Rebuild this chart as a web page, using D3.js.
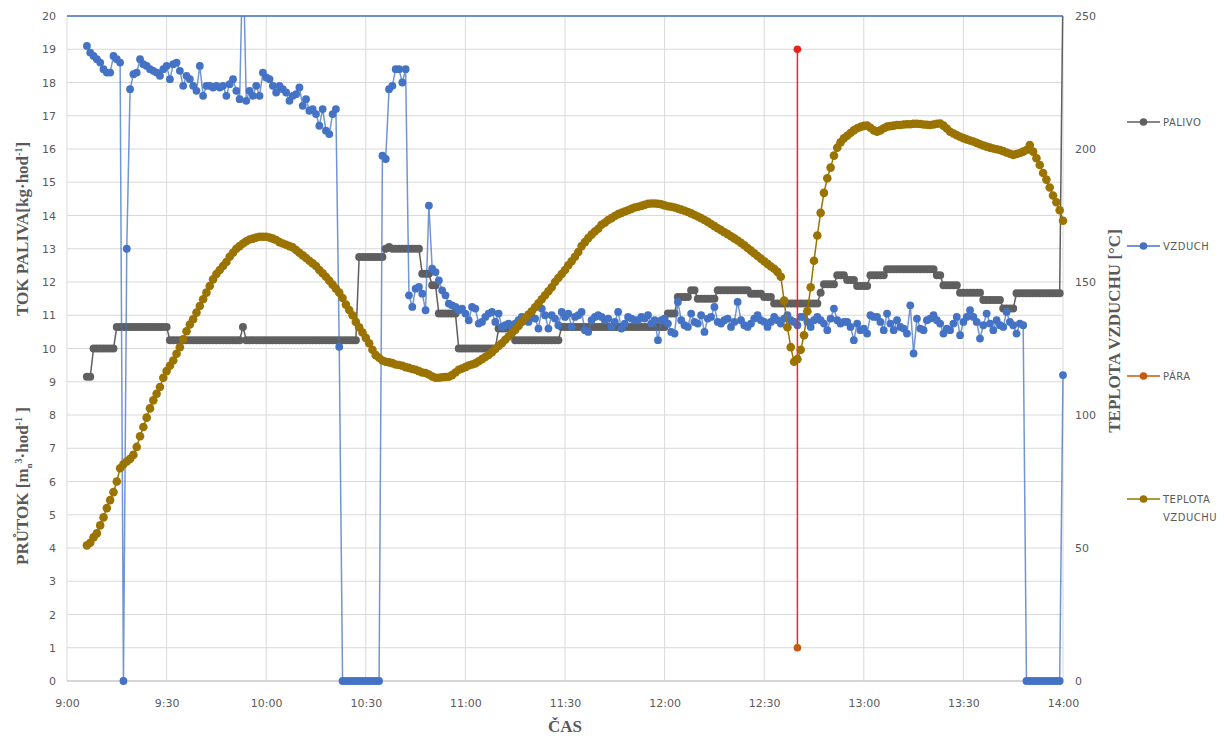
<!DOCTYPE html>
<html>
<head>
<meta charset="utf-8">
<script src="https://cdn.jsdelivr.net/npm/d3@7"></script>
<style>
  body { margin: 0; background: #fff; }
  svg text { font-family: "DejaVu Sans", sans-serif; fill: #595959; }
</style>
</head>
<body>
<svg id="chart" width="1224" height="736"></svg>
<script>
// one sample per minute, first sample at 9:06 (minutes counted from 9:00)
const startMinute = 6;

const timeTicks = [0, 30, 60, 90, 120, 150, 180, 210, 240, 270, 300];
const timeLabels = ["9:00", "9:30", "10:00", "10:30", "11:00", "11:30", "12:00", "12:30", "13:00", "13:30", "14:00"];
const leftTicks = [0, 1, 2, 3, 4, 5, 6, 7, 8, 9, 10, 11, 12, 13, 14, 15, 16, 17, 18, 19, 20];
const rightTicks = [0, 50, 100, 150, 200, 250];
const seriesNames = ["PALIVO", "VZDUCH", "PÁRA", "TEPLOTA VZDUCHU"];

// PALIVO [kg/hod]
const palivo = [
  9.15, 9.15, 10.0, 10.0,
  10.0, 10.0, 10.0, 10.0, 10.0, 10.65, 10.65, 10.65, 10.65, 10.65,
  10.65, 10.65, 10.65, 10.65, 10.65, 10.65, 10.65, 10.65, 10.65, 10.65,
  10.65, 10.25, 10.25, 10.25, 10.25, 10.25, 10.25, 10.25, 10.25, 10.25,
  10.25, 10.25, 10.25, 10.25, 10.25, 10.25, 10.25, 10.25, 10.25, 10.25,
  10.25, 10.25, 10.25, 10.65, 10.25, 10.25, 10.25, 10.25, 10.25, 10.25,
  10.25, 10.25, 10.25, 10.25, 10.25, 10.25, 10.25, 10.25, 10.25, 10.25,
  10.25, 10.25, 10.25, 10.25, 10.25, 10.25, 10.25, 10.25, 10.25, 10.25,
  10.25, 10.25, 10.25, 10.25, 10.25, 10.25, 10.25, 10.25, 12.75, 12.75,
  12.75, 12.75, 12.75, 12.75, 12.75, 12.75, 13.0, 13.05, 13.0, 13.0,
  13.0, 13.0, 13.0, 13.0, 13.0, 13.0, 13.0, 12.25, 12.25, 12.25,
  11.9, 11.9, 11.05, 11.05, 11.05, 11.05, 11.05, 11.05, 10.0, 10.0,
  10.0, 10.0, 10.0, 10.0, 10.0, 10.0, 10.0, 10.0, 10.0, 10.0,
  10.6, 10.6, 10.6, 10.6, 10.6, 10.25, 10.25, 10.25, 10.25, 10.25,
  10.25, 10.25, 10.25, 10.25, 10.25, 10.25, 10.25, 10.25, 10.25, 10.65,
  10.65, 10.65, 10.65, 10.65, 10.65, 10.65, 10.65, 10.65, 10.65, 10.65,
  10.65, 10.65, 10.65, 10.65, 10.65, 10.65, 10.65, 10.65, 10.65, 10.65,
  10.65, 10.65, 10.65, 10.65, 10.65, 10.65, 10.65, 10.65, 10.65, 10.65,
  10.65, 11.05, 11.05, 11.05, 11.55, 11.55, 11.55, 11.55, 11.75, 11.75,
  11.5, 11.5, 11.5, 11.5, 11.5, 11.5, 11.75, 11.75, 11.75, 11.75,
  11.75, 11.75, 11.75, 11.75, 11.75, 11.75, 11.65, 11.65, 11.65, 11.65,
  11.55, 11.55, 11.55, 11.35, 11.35, 11.35, 11.35, 11.35, 11.35, 11.35,
  11.35, 11.35, 11.35, 11.35, 11.35, 11.35, 11.35, 11.68, 11.93, 11.93,
  11.93, 11.93, 12.2, 12.2, 12.2, 12.06, 12.06, 12.06, 11.88, 11.88,
  11.88, 11.88, 12.2, 12.2, 12.2, 12.2, 12.2, 12.38, 12.38, 12.38,
  12.38, 12.38, 12.38, 12.38, 12.38, 12.38, 12.38, 12.38, 12.38, 12.38,
  12.38, 12.38, 12.2, 12.2, 11.9, 11.9, 11.9, 11.9, 11.9, 11.68,
  11.68, 11.68, 11.68, 11.68, 11.68, 11.68, 11.46, 11.46, 11.46, 11.46,
  11.46, 11.46, 11.2, 11.2, 11.2, 11.2, 11.66, 11.66, 11.66, 11.66,
  11.66, 11.66, 11.66, 11.66, 11.66, 11.66, 11.66, 11.66, 11.66, 11.66,
  21
];

// VZDUCH [m3/hod]
const vzduch = [
  19.1, 18.9, 18.8, 18.7,
  18.6, 18.4, 18.3, 18.3, 18.8, 18.7, 18.6, 0, 13.0, 17.8,
  18.25, 18.3, 18.7, 18.55, 18.5, 18.4, 18.35, 18.3, 18.2, 18.4,
  18.5, 18.1, 18.55, 18.6, 18.35, 17.9, 18.2, 18.1, 17.9, 17.75,
  18.5, 17.6, 17.9, 17.9, 17.85, 17.9, 17.85, 17.9, 17.6, 17.95,
  18.1, 17.75, 17.5, 22, 17.45, 17.75, 17.6, 17.9, 17.6, 18.3,
  18.15, 18.1, 17.9, 17.7, 17.9, 17.8, 17.7, 17.45, 17.6, 17.65,
  17.85, 17.3, 17.5, 17.15, 17.2, 17.05, 16.7, 17.2, 16.55, 16.45,
  17.05, 17.2, 10.05, 0, 0, 0, 0, 0, 0, 0,
  0, 0, 0, 0, 0, 15.8, 15.7, 17.8, 17.9, 18.4,
  18.4, 18.0, 18.4, 11.6, 11.25, 11.8, 11.85, 11.65, 11.15, 14.3,
  12.4, 12.3, 12.05, 11.75, 11.6, 11.35, 11.3, 11.25, 11.15, 11.2,
  11.05, 10.85, 11.25, 11.2, 10.75, 10.8, 10.95, 11.05, 11.1, 10.8,
  11.05, 10.65, 10.7, 10.75, 10.65, 10.75, 10.85, 10.95, 10.85, 10.8,
  10.95, 10.9, 10.6, 11.2, 11.0, 10.6, 11.0, 10.9, 10.7, 11.1,
  10.95, 11.05, 10.65, 10.95, 11.0, 11.1, 10.55, 10.5, 10.85, 10.95,
  11.0, 10.95, 10.85, 10.9, 10.65, 10.8, 11.1, 10.6, 10.75, 10.95,
  10.9, 10.85, 10.85, 10.95, 10.9, 11.0, 10.75, 10.85, 10.25, 10.85,
  10.9, 10.75, 10.5, 10.45, 11.4, 10.85, 10.7, 10.65, 11.05, 10.8,
  10.75, 11.0, 10.5, 10.9, 10.95, 11.25, 10.8, 10.75, 10.85, 10.9,
  10.65, 10.8, 11.4, 10.85, 10.7, 10.65, 10.75, 10.9, 11.0, 10.85,
  10.8, 10.65, 10.8, 10.95, 10.85, 10.75, 10.9, 11.0, 10.85, 10.8,
  10.7, 10.95, 10.95, 10.8, 10.65, 10.85, 10.95, 10.85, 10.75, 10.55,
  10.9, 11.2, 10.85, 10.75, 10.8, 10.8, 10.65, 10.25, 10.75, 10.55,
  10.6, 10.45, 11.0, 10.95, 10.95, 10.8, 10.55, 11.05, 10.75, 10.55,
  10.85, 10.65, 10.6, 10.45, 11.3, 9.85, 10.9, 10.6, 10.55, 10.85,
  10.9, 11.0, 10.85, 10.75, 10.45, 10.6, 10.55, 10.75, 10.95, 10.4,
  10.8, 10.95, 11.15, 10.95, 10.8, 10.3, 10.7, 11.05, 10.75, 10.55,
  10.85, 10.7, 10.65, 11.1, 10.8, 10.7, 10.45, 10.75, 10.7, 0,
  0, 0, 0, 0, 0, 0, 0, 0, 0, 0,
  9.2
];

// PÁRA - two readings at 12:40
const paraMinutes = [220, 220];
const para = [1, 19];

// TEPLOTA VZDUCHU [°C]
const teplota = [
  51, 52, 54, 55.5,
  58.5, 61.5, 65, 68, 71, 75, 80, 81.5, 82.5, 83.5,
  85, 88, 92, 95.5, 99, 102.5, 105.5, 108, 110.5, 114,
  116.5, 118.5, 120.5, 123, 125.5, 128.5, 131.5, 134, 136, 138.5,
  141, 143.5, 146, 148.5, 151, 153, 154.5, 156, 157.5, 159.5,
  161, 162.5, 163.5, 164.5, 165.3, 166, 166.3, 166.7, 167, 167,
  167, 166.7, 166.3, 165.8, 165, 164.5, 164, 163.5, 163, 162,
  161, 160, 159, 158, 157, 156, 154.5, 153.3, 152, 150.5,
  149, 147.5, 146, 144, 141.5, 139.5, 137.5, 135, 133, 131,
  129, 127, 124.5, 122.5, 121.5, 120.5, 120, 119.8, 119.5, 119,
  118.8, 118.5, 118, 117.7, 117.3, 117, 116.5, 116, 115.8, 115.2,
  114.5, 114, 114, 114.2, 114.3, 114.4, 115, 116, 117, 117.5,
  118, 118.6, 119, 119.4, 120.2, 121, 121.8, 122.6, 123.6, 124.8,
  126, 127, 128.3, 129.5, 130.8, 132, 133.5, 135, 136.5, 137.8,
  139, 140.5, 142, 143.5, 145, 146.5, 148, 150, 151.5, 153,
  154.5, 156.3, 157.8, 159.5, 161.3, 163.5, 165, 166.5, 167.8, 169,
  170, 171.5, 172.3, 173.3, 174, 174.8, 175.5, 176, 176.5, 177,
  177.5, 178, 178.3, 178.6, 179, 179.4, 179.5, 179.5, 179.4, 179.2,
  178.8, 178.5, 178.3, 178, 177.6, 177.2, 176.8, 176.3, 175.8, 175.2,
  174.6, 174, 173.3, 172.6, 171.8, 171, 170.2, 169.5, 168.7, 168,
  167.2, 166.4, 165.6, 164.7, 163.8, 162.8, 161.8, 160.8, 159.8, 158.8,
  157.8, 156.8, 155.8, 155, 153.8, 152, 143, 133, 125.5, 120,
  121, 124.5, 130, 139, 148, 158, 167.5, 176, 183.5, 189,
  193, 197.5, 200.5, 202.5, 204, 205, 206, 207, 207.8, 208.3,
  208.7, 208.8, 208, 207, 206.5, 207, 207.8, 208.4, 208.6, 208.8,
  209, 209, 209.2, 209.3, 209.3, 209.5, 209.5, 209.4, 209.2, 209.1,
  209, 209.2, 209.5, 209.6, 208.8, 207.7, 206.5, 205.8, 205.2, 204.6,
  204.1, 203.6, 203.2, 202.8, 202.3, 201.8, 201.3, 200.9, 200.5, 200.2,
  199.9, 199.6, 199.2, 198.7, 198.2, 197.8, 198.1, 198.5, 199, 199.6,
  201.5, 199, 196.5, 194, 191, 188.5, 185.5, 182.5, 180, 177,
  173
];

const colors = {
  palivo: "#5f5f5f",
  vzduch: "#4472c4",
  para: "#c55a11",
  paraLine: "#ff1f1f",
  teplota: "#9a7300",
  grid: "#d9d9d9"
};

const svg = d3.select("#chart");
const plot = { left: 67, right: 1063, top: 16, bottom: 681 };

const x = d3.scaleLinear().domain([0, 300]).range([plot.left, plot.right]);
const yL = d3.scaleLinear().domain([0, 20]).range([plot.bottom, plot.top]);
const yR = d3.scaleLinear().domain([0, 250]).range([plot.bottom, plot.top]);

// gridlines
svg.append("g").selectAll("line.h")
  .data(leftTicks).enter().append("line")
  .attr("x1", plot.left).attr("x2", plot.right)
  .attr("y1", d => yL(d)).attr("y2", d => yL(d))
  .attr("stroke", colors.grid).attr("stroke-width", 1);

svg.append("g").selectAll("line.v")
  .data(timeTicks).enter().append("line")
  .attr("x1", d => x(d)).attr("x2", d => x(d))
  .attr("y1", plot.top).attr("y2", plot.bottom)
  .attr("stroke", colors.grid).attr("stroke-width", 1);

// axes (labels only, Excel style)
const xAxis = svg.append("g")
  .attr("transform", `translate(0,${plot.bottom})`)
  .call(d3.axisBottom(x).tickValues(timeTicks).tickFormat((d, i) => timeLabels[i]).tickSize(0).tickPadding(18));
const leftAxis = svg.append("g")
  .attr("transform", `translate(${plot.left},0)`)
  .call(d3.axisLeft(yL).tickValues(leftTicks).tickSize(0).tickPadding(11));
const rightAxis = svg.append("g")
  .attr("transform", `translate(${plot.right},0)`)
  .call(d3.axisRight(yR).tickValues(rightTicks).tickSize(0).tickPadding(12));

[xAxis, leftAxis, rightAxis].forEach(a => {
  a.select(".domain").remove();
  a.selectAll("text").style("font-size", "11px").attr("fill", "#595959");
});

// bottom axis line
svg.append("line")
  .attr("x1", plot.left).attr("x2", plot.right)
  .attr("y1", plot.bottom).attr("y2", plot.bottom)
  .attr("stroke", "#bfbfbf");

// clip so values above the scale are cut at the top
svg.append("clipPath").attr("id", "clip")
  .append("rect")
  .attr("x", plot.left - 10).attr("y", plot.top)
  .attr("width", plot.right - plot.left + 20).attr("height", plot.bottom - plot.top + 20);

const layer = svg.append("g").attr("clip-path", "url(#clip)");

function drawSeries(points, yScale, lineColor, markerColor, r, lineOpacity) {
  const line = d3.line().x(d => x(d[0])).y(d => yScale(d[1]));
  const g = layer.append("g");
  g.append("path")
    .datum(points)
    .attr("d", line)
    .attr("fill", "none")
    .attr("stroke", lineColor)
    .attr("stroke-width", 1.5)
    .attr("stroke-opacity", lineOpacity);
  g.selectAll("circle")
    .data(points).enter().append("circle")
    .attr("cx", d => x(d[0]))
    .attr("cy", d => yScale(d[1]))
    .attr("r", r)
    .attr("fill", markerColor);
  return g;
}

const palivoPts = palivo.map((v, i) => [startMinute + i, v]);
const vzduchPts = vzduch.map((v, i) => [startMinute + i, v]);
const teplotaPts = teplota.map((v, i) => [startMinute + i, v]);
const paraPts = para.map((v, i) => [paraMinutes[i], v]);

drawSeries(palivoPts, yL, colors.palivo, colors.palivo, 4, 1);
drawSeries(vzduchPts, yL, colors.vzduch, colors.vzduch, 3.9, 0.75);
const paraG = drawSeries(paraPts, yL, colors.paraLine, colors.para, 3.8, 1);
paraG.selectAll("circle").attr("fill", (d, i) => i === 1 ? "#e8231c" : colors.para);
drawSeries(teplotaPts, yR, colors.teplota, colors.teplota, 4.3, 1);

// top border line
svg.append("line")
  .attr("x1", plot.left).attr("x2", plot.right)
  .attr("y1", plot.top).attr("y2", plot.top)
  .attr("stroke", colors.vzduch).attr("stroke-width", 1.3);

// axis titles
const titleStyle = t => t
  .attr("text-anchor", "middle")
  .style("font-family", "'Liberation Serif', 'DejaVu Serif', serif")
  .style("font-weight", "bold")
  .style("font-size", "17px")
  .attr("fill", "#595959");

const t1 = svg.append("text").attr("transform", "translate(28,229) rotate(-90)").call(titleStyle);
t1.append("tspan").text("TOK PALIVA[kg·hod");
t1.append("tspan").attr("dy", -6).style("font-size", "10px").text("-1");
t1.append("tspan").attr("dy", 6).text("]");

const t2 = svg.append("text").attr("transform", "translate(28,486) rotate(-90)").call(titleStyle);
t2.append("tspan").text("PRŮTOK [m");
t2.append("tspan").attr("dy", 4).style("font-size", "9px").text("n");
t2.append("tspan").attr("dy", -10).style("font-size", "10px").text("3");
t2.append("tspan").attr("dy", 6).text("·hod");
t2.append("tspan").attr("dy", -6).style("font-size", "10px").text("-1");
t2.append("tspan").attr("dy", 6).text(" ]");

svg.append("text").attr("transform", "translate(1120,331) rotate(-90)").call(titleStyle)
  .text("TEPLOTA VZDUCHU [°C]");

svg.append("text").attr("x", 565).attr("y", 732).call(titleStyle).text("ČAS");

// legend
const legendY = [122, 246, 376, 499];
const legendColors = [colors.palivo, colors.vzduch, colors.para, colors.teplota];
const legend = svg.append("g");
seriesNames.forEach((name, i) => {
  const g = legend.append("g").attr("transform", `translate(1127,${legendY[i]})`);
  g.append("line").attr("x1", 0).attr("x2", 33).attr("y1", 0).attr("y2", 0)
    .attr("stroke", legendColors[i]).attr("stroke-width", 1.5);
  g.append("circle").attr("cx", 16.5).attr("cy", 0).attr("r", 3.8).attr("fill", legendColors[i]);
  const words = name.split(" ");
  const txt = g.append("text").attr("x", 36).attr("y", 4)
    .style("font-size", "10px").style("letter-spacing", "0.5px").attr("fill", "#595959");
  words.forEach((w, k) => {
    txt.append("tspan").attr("x", 36).attr("dy", k === 0 ? 0 : 18).text(w);
  });
});
</script>
</body>
</html>
